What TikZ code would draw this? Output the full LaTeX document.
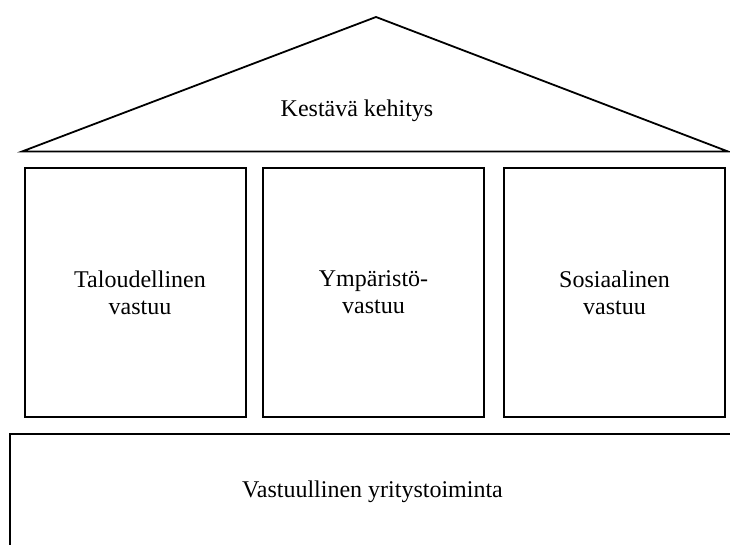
\documentclass[tikz,border=0pt]{standalone}
\usepackage{fontspec}
\setmainfont{Liberation Serif}
\usepackage{tikz}
\usetikzlibrary{positioning}

\begin{document}
\begin{tikzpicture}[x=1pt,y=-1pt,
    every node/.style={font=\fontsize{24}{27}\selectfont},
    pillar/.style={draw, line width=1.8pt, minimum width=221pt,
                   minimum height=249pt, inner sep=0pt, align=center}]
  \path[use as bounding box, clip] (0,0) rectangle (730,545);
  % roof
  \coordinate (roofL) at (22,151.5);
  \coordinate (roofT) at (376,17);
  \coordinate (roofR) at (728,151.5);
  \draw[line width=1.8pt] (roofL) -- (roofT) -- (roofR) -- cycle;
  \node[anchor=base] (goal) at (357,117) {Kestävä kehitys};
  % pillars
  \node[pillar] (econ) at (135.5,292.5) {\hspace*{9pt}Taloudellinen\\\hspace*{9pt}vastuu};
  \node[pillar] (env)  at (373.5,292.5) {Ympäristö-\\vastuu};
  \node[pillar] (soc)  at (614.5,292.5) {Sosiaalinen\\vastuu};
  % foundation
  \node[draw, line width=1.8pt, minimum width=725pt, minimum height=116pt,
        inner sep=0pt] (base) at (372.5,492) {Vastuullinen yritystoiminta};
\end{tikzpicture}
\end{document}
